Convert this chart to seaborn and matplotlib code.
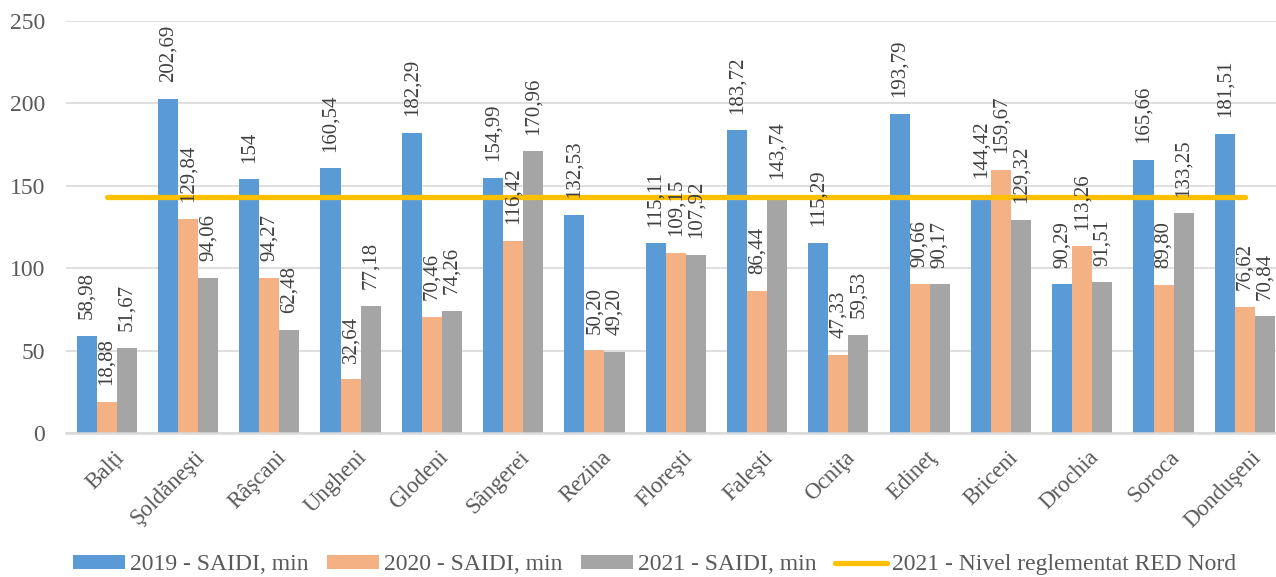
import pandas as pd
import matplotlib.pyplot as plt
from matplotlib.lines import Line2D
from matplotlib.patches import Patch
from matplotlib.transforms import ScaledTranslation
import seaborn as sns

raioane = ["Balți", "Şoldăneşti", "Râşcani", "Ungheni", "Glodeni", "Sângerei",
           "Rezina", "Floreşti", "Faleşti", "Ocniţa", "Edineţ", "Briceni",
           "Drochia", "Soroca", "Donduşeni"]
saidi_2019 = [58.98, 202.69, 154.00, 160.54, 182.29, 154.99, 132.53, 115.11,
              183.72, 115.29, 193.79, 144.42, 90.29, 165.66, 181.51]
saidi_2020 = [18.88, 129.84, 94.27, 32.64, 70.46, 116.42, 50.20, 109.15,
              86.44, 47.33, 90.66, 159.67, 113.26, 89.80, 76.62]
saidi_2021 = [51.67, 94.06, 62.48, 77.18, 74.26, 170.96, 49.20, 107.92,
              143.74, 59.53, 90.17, 129.32, 91.51, 133.25, 70.84]
nivel_2021 = [143, 143, 143, 143, 143, 143, 143, 143, 143, 143, 143, 143, 143, 143, 143]

serii = ["2019 - SAIDI, min", "2020 - SAIDI, min", "2021 - SAIDI, min"]
nume_linie = "2021 - Nivel reglementat RED Nord"
culori = ["#5B9BD5", "#F4B183", "#A5A5A5"]
culoare_linie = "#FFC000"
text_gri = "#595959"


def fmt(v):
    s = f"{v:.2f}".replace(".", ",")
    return s[:-3] if s.endswith(",00") else s


def main() -> None:
    sns.set_theme(style="white")
    plt.rcParams["font.family"] = ["Liberation Serif", "DejaVu Serif"]

    df = pd.DataFrame({
        "raion": raioane * 3,
        "serie": [serii[0]] * len(raioane) + [serii[1]] * len(raioane) + [serii[2]] * len(raioane),
        "valoare": saidi_2019 + saidi_2020 + saidi_2021,
    })

    fig = plt.figure(figsize=(12.76, 5.77), dpi=100)
    ax = fig.add_axes([66 / 1276, 1 - 433 / 577, 1 - 66 / 1276, (433 - 21) / 577])

    sns.barplot(data=df, x="raion", y="valoare", hue="serie", palette=culori,
                saturation=1, width=0.74, linewidth=0, legend=False, ax=ax)

    ax.plot(range(len(raioane)), nivel_2021, color=culoare_linie, lw=3.8,
            solid_capstyle="round", zorder=4)

    # data labels, rotated like in the Excel chart
    for cont, vals in zip(ax.containers, [saidi_2019, saidi_2020, saidi_2021]):
        ax.bar_label(cont, labels=[fmt(v) for v in vals], rotation=90, padding=12,
                     fontsize=15, color="#404040", zorder=5)

    ax.set_ylim(0, 250)
    ax.set_yticks([0, 50, 100, 150, 200, 250])
    ax.set_xlim(-0.5, -0.5 + 1210 / 81.3)
    ax.grid(axis="y", color="#D9D9D9", lw=1.2)
    ax.set_axisbelow(True)
    for side in ["left", "right", "top"]:
        ax.spines[side].set_visible(False)
    ax.spines["bottom"].set_color("#D9D9D9")
    ax.spines["bottom"].set_linewidth(1.8)
    ax.set_xlabel("")
    ax.set_ylabel("")
    ax.tick_params(axis="y", length=0, pad=15, labelsize=17, labelcolor=text_gri)
    ax.tick_params(axis="x", length=0, pad=10, labelsize=16.5, labelcolor=text_gri)
    shift = ScaledTranslation(6 / 100, 0, fig.dpi_scale_trans)
    for lbl in ax.get_xticklabels():
        lbl.set_rotation(45)
        lbl.set_ha("right")
        lbl.set_va("top")
        lbl.set_rotation_mode("anchor")
        lbl.set_transform(lbl.get_transform() + shift)

    handles = [Patch(facecolor=c, edgecolor="none") for c in culori]
    handles.append(Line2D([0], [0], color=culoare_linie, lw=3.8, solid_capstyle="round"))
    fig.legend(handles, serii + [nume_linie], loc="center", ncol=4,
               bbox_to_anchor=(0.513, 0.021), frameon=False, fontsize=17,
               labelcolor=text_gri, handlelength=2.2, handleheight=0.55,
               handletextpad=0.25, columnspacing=0.75)

    fig.savefig("out.png", dpi=100)
    plt.close(fig)


if __name__ == "__main__":
    main()
